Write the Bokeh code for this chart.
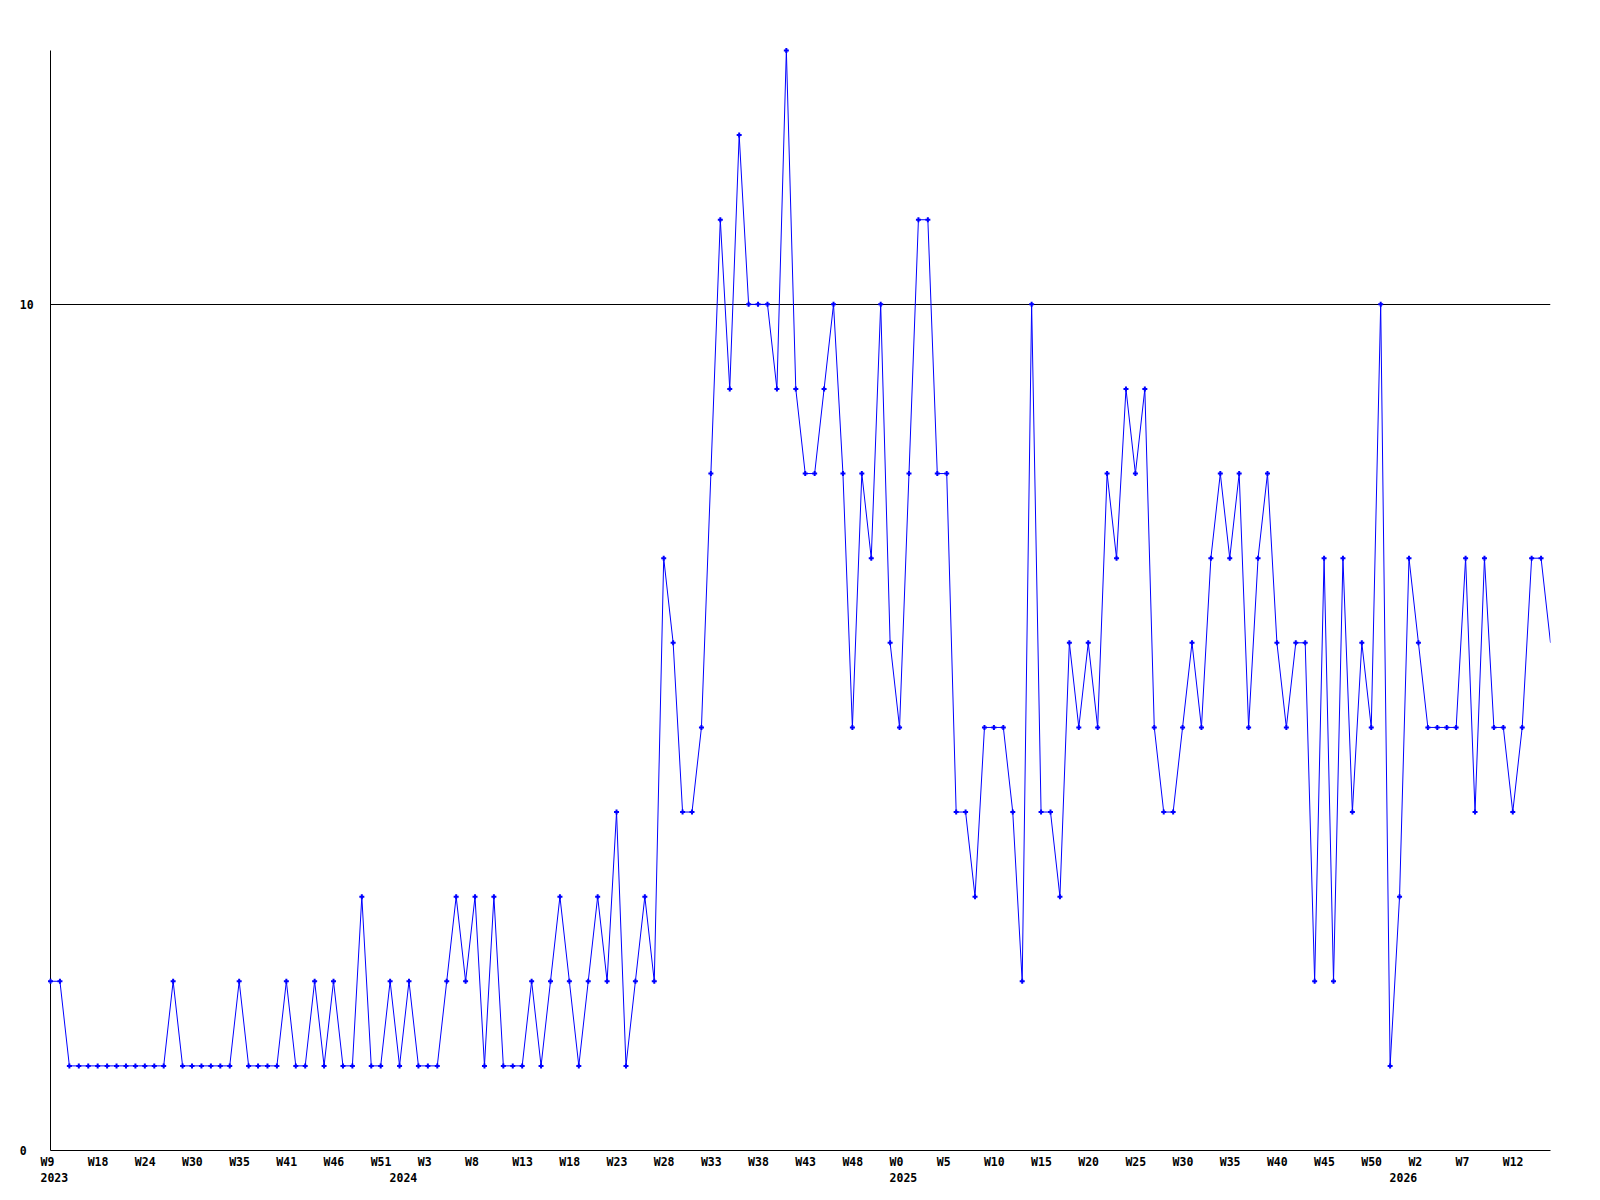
from bokeh.plotting import figure
from bokeh.models import Range1d, FixedTicker, ColumnDataSource
from bokeh.core.properties import value
from bokeh.embed import file_html
from bokeh.resources import INLINE

# weekly counts, 2023 W9 .. 2026 W15
counts = [
    2, 2, 1, 1, 1, 1, 1, 1, 1, 1,
    1, 1, 1, 2, 1, 1, 1, 1, 1, 1,
    2, 1, 1, 1, 1, 2, 1, 1, 2, 1,
    2, 1, 1, 3, 1, 1, 2, 1, 2, 1,
    1, 1, 2, 3, 2, 3, 1, 3, 1, 1,
    1, 2, 1, 2, 3, 2, 1, 2, 3, 2,
    4, 1, 2, 3, 2, 7, 6, 4, 4, 5,
    8, 11, 9, 12, 10, 10, 10, 9, 13, 9,
    8, 8, 9, 10, 8, 5, 8, 7, 10, 6,
    5, 8, 11, 11, 8, 8, 4, 4, 3, 5,
    5, 5, 4, 2, 10, 4, 4, 3, 6, 5,
    6, 5, 8, 7, 9, 8, 9, 5, 4, 4,
    5, 6, 5, 7, 8, 7, 8, 5, 7, 8,
    6, 5, 6, 6, 2, 7, 2, 7, 4, 6,
    5, 10, 1, 3, 7, 6, 5, 5, 5, 5,
    7, 4, 7, 5, 5, 4, 5, 7, 7, 6,
]

week_tick_idx = [0, 5, 10, 15, 20, 25, 30, 35, 40, 45, 50, 55, 60, 65, 70, 75,
                 80, 85, 90, 95, 100, 105, 110, 115, 120, 125, 130, 135, 140, 145, 150, 155]
week_labels = ["W9", "W18", "W24", "W30", "W35", "W41", "W46", "W51", "W3", "W8",
               "W13", "W18", "W23", "W28", "W33", "W38", "W43", "W48", "W0", "W5",
               "W10", "W15", "W20", "W25", "W30", "W35", "W40", "W45", "W50", "W2",
               "W7", "W12"]
year_tick_idx = [0, 37, 90, 143]
year_labels = ["2023", "2024", "2025", "2026"]
y_ticks = [0, 10]
y_labels = ["0", "10"]

W, H = 1600, 1200
ML, MR, MT, MB = 50, 50, 50, 50
n = len(counts)
xs = list(range(n))
ymax = max(counts)

p = figure(width=W, height=H, x_range=Range1d(0, n - 1), y_range=Range1d(0, ymax),
           min_border_left=ML, min_border_right=MR, min_border_top=MT, min_border_bottom=MB,
           toolbar_location=None, output_backend="svg")
p.outline_line_color = None
p.background_fill_color = "white"
p.border_fill_color = "white"
for ax in p.axis:
    ax.ticker = FixedTicker(ticks=[])
    ax.major_tick_line_color = None
    ax.minor_tick_line_color = None
    ax.axis_line_color = "black"
    ax.axis_line_width = 1
    ax.major_label_text_font_size = "0px"
p.xgrid.visible = False
p.ygrid.ticker = FixedTicker(ticks=[10])
p.ygrid.grid_line_color = "black"
p.ygrid.grid_line_alpha = 1.0
p.ygrid.grid_line_width = 1

px_x = (W - ML - MR) / (n - 1)
px_y = (H - MT - MB) / ymax

BLUE = "#0000ff"
p.line(xs, counts, line_color=BLUE, line_width=1)
p.scatter(xs[:-1], counts[:-1], marker="cross", size=5, line_width=2,
          line_color=BLUE, level="overlay")

FONT = value("DejaVu Sans Mono")
FS = "11.5px"

WEEK_DROP, YEAR_DROP, YLAB_DROP = 11.5, 27.2, 0.0

wk = ColumnDataSource(dict(x=week_tick_idx, y=[-WEEK_DROP / px_y] * len(week_tick_idx), t=week_labels))
p.text(x="x", y="y", text="t", source=wk, text_font=FONT, text_font_size=FS,
       text_font_style="bold", text_color="black", text_align="left",
       text_baseline="alphabetic", x_offset=-10, level="overlay")

yr = ColumnDataSource(dict(x=year_tick_idx, y=[-YEAR_DROP / px_y] * len(year_tick_idx), t=year_labels))
p.text(x="x", y="y", text="t", source=yr, text_font=FONT, text_font_size=FS,
       text_font_style="bold", text_color="black", text_align="left",
       text_baseline="alphabetic", x_offset=-10, level="overlay")

yl = ColumnDataSource(dict(x=[-30.7 / px_x] * len(y_ticks),
                           y=[t - YLAB_DROP / px_y for t in y_ticks],
                           t=y_labels))
p.text(x="x", y="y", text="t", source=yl, text_font=FONT, text_font_size=FS,
       text_font_style="bold", text_color="black", text_align="left",
       text_baseline="alphabetic", level="overlay")

open("out.html", "w").write(file_html(p, INLINE))
